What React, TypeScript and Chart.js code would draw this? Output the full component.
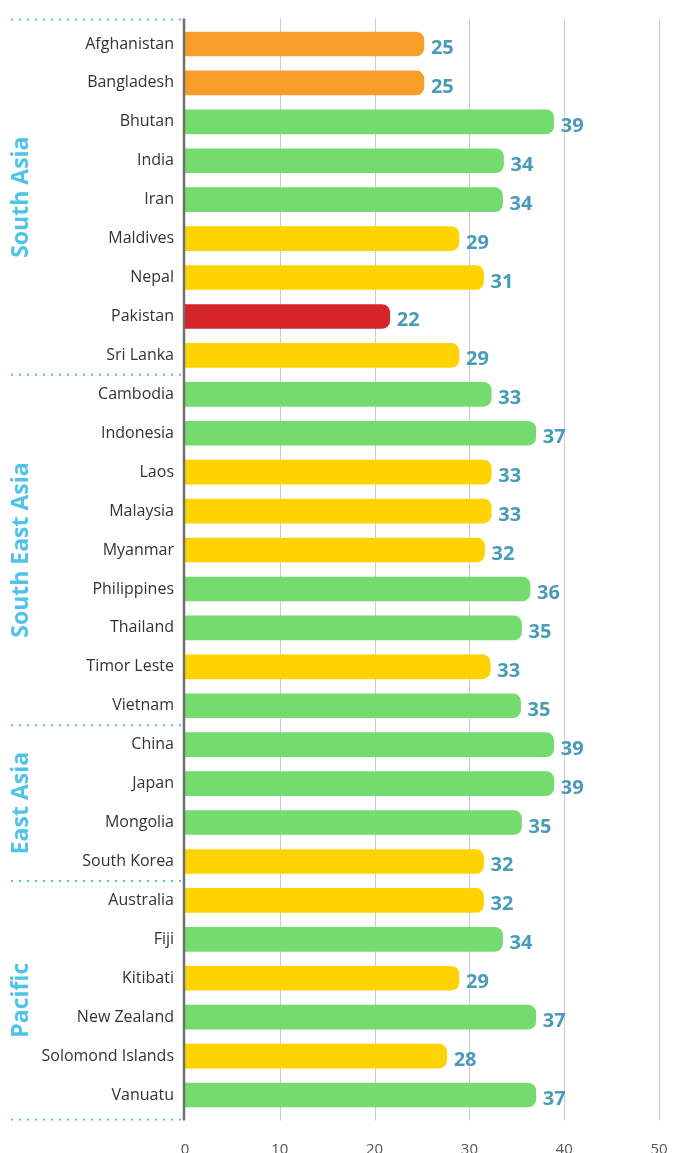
import React, { useEffect, useRef } from "react";
import { Chart, registerables } from "chart.js";

Chart.register(...registerables);

const countries = [
  "Afghanistan", "Bangladesh", "Bhutan", "India", "Iran", "Maldives", "Nepal", "Pakistan", "Sri Lanka",
  "Cambodia", "Indonesia", "Laos", "Malaysia", "Myanmar", "Philippines", "Thailand", "Timor Leste", "Vietnam",
  "China", "Japan", "Mongolia", "South Korea",
  "Australia", "Fiji", "Kitibati", "New Zealand", "Solomond Islands", "Vanuatu",
];

const barValues = [
  25.2, 25.2, 38.9, 33.6, 33.5, 28.9, 31.5, 21.6, 28.9,
  32.3, 37.0, 32.3, 32.3, 31.6, 36.4, 35.5, 32.2, 35.4,
  38.9, 38.9, 35.5, 31.5,
  31.5, 33.5, 28.9, 37.0, 27.6, 37.0,
];

const valueLabels = [
  25, 25, 39, 34, 34, 29, 31, 22, 29,
  33, 37, 33, 33, 32, 36, 35, 33, 35,
  39, 39, 35, 32,
  32, 34, 29, 37, 28, 37,
];

const tiers = [
  "orange", "orange", "green", "green", "green", "yellow", "yellow", "red", "yellow",
  "green", "green", "yellow", "yellow", "yellow", "green", "green", "yellow", "green",
  "green", "green", "green", "yellow",
  "yellow", "green", "yellow", "green", "yellow", "green",
];

const regions = ["South Asia", "South East Asia", "East Asia", "Pacific"];
const regionSizes = [9, 9, 4, 6];
const xTicks = [0, 10, 20, 30, 40, 50];

const tierColors: Record<string, string> = {
  orange: "#F89C2A",
  green: "#74DB6F",
  yellow: "#FFD300",
  red: "#D4252B",
};

const FONT = "'Open Sans', 'Noto Sans', sans-serif";
const LABEL_BLUE = "#4A9BB8";
const REGION_BLUE = "#4FC3EA";

const overlayPlugin = {
  id: "overlay",
  beforeDatasetsDraw(chart: any) {
    const { ctx, chartArea, scales } = chart;
    const x = scales.x;
    ctx.save();
    ctx.strokeStyle = "#CCCCCC";
    ctx.lineWidth = 1;
    for (const t of xTicks) {
      if (t === 0) continue;
      const px = Math.round(x.getPixelForValue(t)) + 0.5;
      ctx.beginPath();
      ctx.moveTo(px, chartArea.top - 6);
      ctx.lineTo(px, chartArea.bottom + 6);
      ctx.stroke();
    }
    ctx.restore();
  },
  afterDatasetsDraw(chart: any) {
    const { ctx, chartArea, scales } = chart;
    const x = scales.x;
    const y = scales.y;
    ctx.save();

    // value labels
    const meta = chart.getDatasetMeta(0);
    ctx.font = `bold 20px ${FONT}`;
    ctx.fillStyle = LABEL_BLUE;
    ctx.textAlign = "left";
    ctx.textBaseline = "alphabetic";
    meta.data.forEach((bar: any, i: number) => {
      ctx.fillText(String(valueLabels[i]), bar.x + 7, bar.y + 10);
    });

    // separators
    const seps: number[] = [chartArea.top - 5];
    let cum = 0;
    regionSizes.forEach((n, gi) => {
      cum += n;
      if (gi < regionSizes.length - 1) {
        seps.push((y.getPixelForValue(cum - 1) + y.getPixelForValue(cum)) / 2);
      } else {
        seps.push(chartArea.bottom + 5);
      }
    });
    ctx.strokeStyle = REGION_BLUE;
    ctx.lineWidth = 2;
    ctx.setLineDash([2, 6]);
    for (const sy of seps) {
      ctx.beginPath();
      ctx.moveTo(11, sy);
      ctx.lineTo(chartArea.left, sy);
      ctx.stroke();
    }
    ctx.setLineDash([]);

    // region labels
    ctx.font = `bold 23px ${FONT}`;
    ctx.fillStyle = REGION_BLUE;
    ctx.textAlign = "center";
    ctx.textBaseline = "alphabetic";
    regions.forEach((r, i) => {
      const cy = (seps[i] + seps[i + 1]) / 2;
      ctx.save();
      ctx.translate(28, cy);
      ctx.rotate(-Math.PI / 2);
      ctx.fillText(r, 0, 0);
      ctx.restore();
    });

    // axis line
    ctx.strokeStyle = "#6F6F6F";
    ctx.lineWidth = 2.5;
    const ax = x.getPixelForValue(0) - 1;
    ctx.beginPath();
    ctx.moveTo(ax, chartArea.top - 6);
    ctx.lineTo(ax, chartArea.bottom + 6);
    ctx.stroke();

    ctx.restore();
  },
};

export default function App() {
  const canvasRef = useRef<HTMLCanvasElement | null>(null);

  useEffect(() => {
    if (!canvasRef.current) return;
    const chart = new Chart(canvasRef.current, {
      type: "bar",
      data: {
        labels: countries,
        datasets: [
          {
            data: barValues,
            backgroundColor: tiers.map((t) => tierColors[t]),
            borderRadius: 8,
            borderSkipped: "start",
            barThickness: 24,
          },
        ],
      },
      options: {
        indexAxis: "y",
        animation: false,
        responsive: false,
        maintainAspectRatio: false,
        devicePixelRatio: 1,
        layout: { padding: { top: 24.5, right: 24, bottom: 0, left: 0 } },
        plugins: {
          legend: { display: false },
          tooltip: { enabled: false },
          title: { display: false },
        },
        scales: {
          x: {
            type: "linear",
            min: 0,
            max: 50,
            afterBuildTicks: (axis: any) => {
              axis.ticks = xTicks.map((v) => ({ value: v }));
            },
            afterFit: (axis: any) => {
              axis.height = 38.5;
              axis.paddingLeft = 0;
              axis.paddingRight = 0;
            },
            grid: { display: false, drawTicks: false },
            border: { display: false },
            ticks: {
              padding: 26,
              color: "#555555",
              font: { family: FONT, size: 15 },
              maxRotation: 0,
            },
          },
          y: {
            type: "category",
            afterFit: (axis: any) => {
              axis.width = 185;
              axis.paddingTop = 0;
              axis.paddingBottom = 0;
            },
            grid: { display: false, drawTicks: false },
            border: { display: false },
            ticks: {
              padding: 11,
              color: "#333333",
              font: { family: FONT, size: 16 },
              autoSkip: false,
            },
          },
        },
      },
      plugins: [overlayPlugin],
    });
    return () => chart.destroy();
  }, []);

  return (
    <div style={{ position: "absolute", left: 0, top: 0, width: 683, height: 1153, overflow: "hidden", background: "#fff" }}>
      <canvas ref={canvasRef} width={683} height={1153} style={{ display: "block", width: 683, height: 1153 }} />
    </div>
  );
}
